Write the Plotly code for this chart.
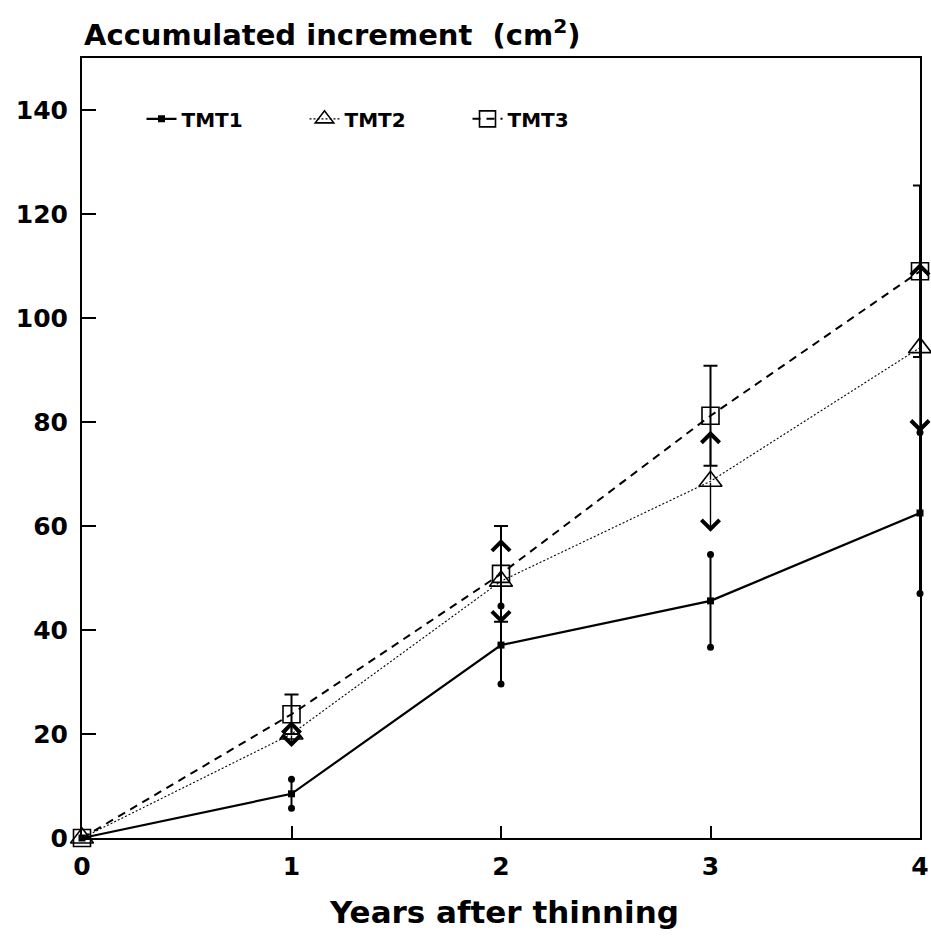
import plotly.graph_objects as go

years = [0, 1, 2, 3, 4]
tmt1 = [0, 8.5, 37.1, 45.6, 62.5]
tmt1_se = [0, 2.8, 7.5, 8.9, 15.5]
tmt2 = [0, 20.0, 49.4, 68.6, 94.3]
tmt2_se = [0, 2.5, 8.1, 9.7, 16.3]
tmt3 = [0, 23.8, 50.8, 81.2, 109.0]
tmt3_se = [0, 3.8, 9.2, 9.6, 16.5]
y_ticks = [0, 20, 40, 60, 80, 100, 120, 140]
x_ticks = [0, 1, 2, 3, 4]

FONT = "DejaVu Sans"
fig = go.Figure()

# TMT3: dashed, open squares, capped error bars
fig.add_trace(go.Scatter(
    x=years, y=tmt3, name="TMT3", mode="lines+markers",
    line=dict(color="black", width=2, dash="8px,6px"),
    marker=dict(symbol="square-open", size=17, color="black", line=dict(width=1.6)),
    error_y=dict(type="data", array=tmt3_se, visible=True, color="black", thickness=2, width=7),
    cliponaxis=False,
))

# TMT2: dotted, open triangles (error bars drawn as arrows below)
fig.add_trace(go.Scatter(
    x=years, y=tmt2, name="TMT2", mode="lines+markers",
    line=dict(color="black", width=1.1, dash="2px,2px"),
    marker=dict(symbol="triangle-up-open", size=20, color="black", line=dict(width=1.6)),
    cliponaxis=False,
))

# TMT1: solid, small filled squares, error bars ending in dots
fig.add_trace(go.Scatter(
    x=years, y=tmt1, name="TMT1", mode="lines+markers",
    line=dict(color="black", width=2.2),
    marker=dict(symbol="square", size=7, color="black"),
    error_y=dict(type="data", array=tmt1_se, visible=True, color="black", thickness=2, width=0),
    cliponaxis=False,
))
ends_x = [x for x, e in zip(years, tmt1_se) if e > 0] * 2
ends_y = [y + e for y, e in zip(tmt1, tmt1_se) if e > 0] + [y - e for y, e in zip(tmt1, tmt1_se) if e > 0]
fig.add_trace(go.Scatter(
    x=ends_x, y=ends_y, mode="markers", showlegend=False,
    marker=dict(symbol="circle", size=7, color="black"), cliponaxis=False,
))

annotations = []
for x, y, e in zip(years, tmt2, tmt2_se):
    if e <= 0:
        continue
    for tip in (y + e, y - e):
        annotations.append(dict(
            x=x, y=tip, ax=x, ay=y, xref="x", yref="y", axref="x", ayref="y",
            text="", showarrow=True, arrowhead=4, arrowsize=2.5, arrowwidth=1.4,
            arrowcolor="black", standoff=0,
        ))

annotations.append(dict(
    text="Accumulated increment  (cm<sup>2</sup>)", xref="paper", yref="paper",
    x=0, y=1.032, xanchor="left", yanchor="middle", showarrow=False,
    font=dict(family=FONT, size=29, color="black", weight="bold"),
))
annotations.append(dict(
    text="Years after thinning", xref="paper", yref="paper",
    x=0.503, y=-0.095, xanchor="center", yanchor="middle", showarrow=False,
    font=dict(family=FONT, size=31, color="black", weight="bold"),
))

fig.update_layout(
    width=931, height=936,
    margin=dict(l=82, r=11, t=58, b=98, autoexpand=False),
    paper_bgcolor="white", plot_bgcolor="white",
    font=dict(family=FONT, color="black"),
    annotations=annotations,
    showlegend=True,
    legend=dict(
        orientation="h", x=0.071, y=0.922, xanchor="left", yanchor="middle",
        traceorder="reversed", entrywidth=118, entrywidthmode="pixels",
        font=dict(family=FONT, size=20, color="black", weight="bold"),
        bgcolor="rgba(0,0,0,0)",
    ),
    xaxis=dict(
        range=[0, 4], tickvals=x_ticks, ticktext=[str(v) for v in x_ticks],
        showgrid=False, zeroline=False, showline=True, linecolor="black", linewidth=2,
        mirror=True, ticks="inside", ticklen=12, tickwidth=1.5, tickcolor="black",
        tickfont=dict(family=FONT, size=25, color="black", weight="bold"),
        ticklabelstandoff=5, automargin=False,
    ),
    yaxis=dict(
        range=[0, 150], tickvals=y_ticks, ticktext=[str(v) for v in y_ticks],
        showgrid=False, zeroline=False, showline=True, linecolor="black", linewidth=2,
        mirror=True, ticks="inside", ticklen=14, tickwidth=1.5, tickcolor="black",
        tickfont=dict(family=FONT, size=25, color="black", weight="bold"),
        ticklabelstandoff=7, automargin=False,
    ),
)

fig.write_html("out.html")
